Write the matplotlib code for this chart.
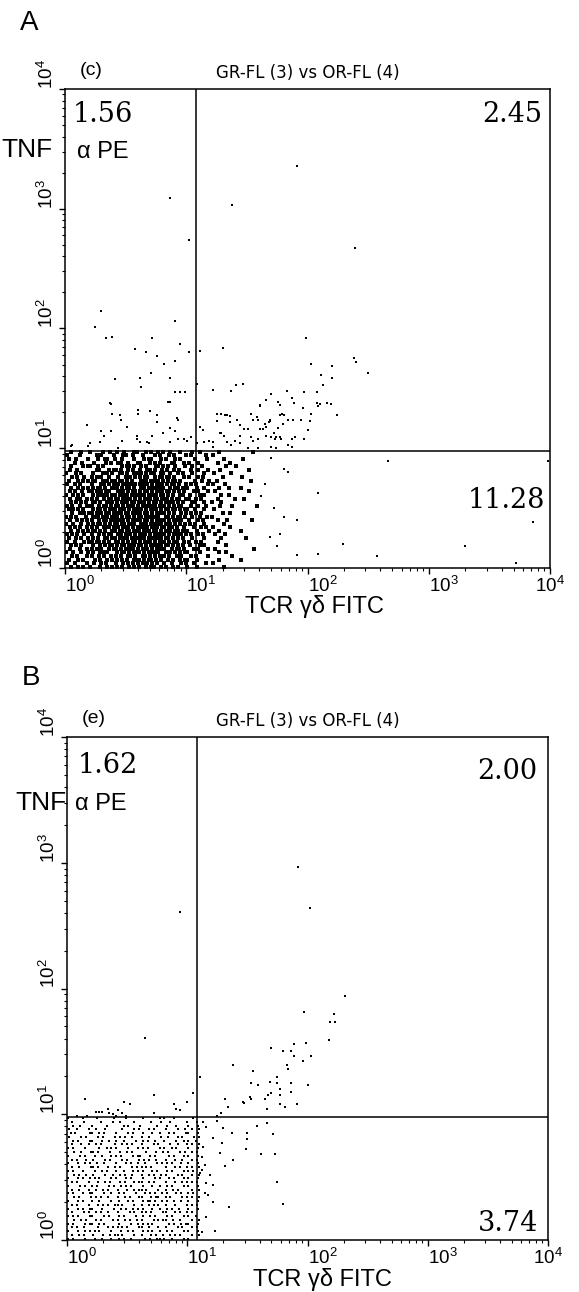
import numpy as np
import matplotlib.pyplot as plt

plt.rcParams['font.family'] = ['Liberation Sans', 'DejaVu Sans']
plt.rcParams['mathtext.fontset'] = 'custom'
plt.rcParams['mathtext.rm'] = 'Liberation Sans'

W, H = 579, 1292

# decade tick labels
tick_vals = [1, 10, 100, 1000, 10000]
tick_labels = [r'$\mathregular{10^{%d}}$' % i for i in range(5)]

# quadrant percentages (UL, UR, LR)
pct_a = ['1.56', '2.45', '11.28']
pct_b = ['1.62', '2.00', '3.74']

# quadrant gates, log10 units
gate_a = (1.08, 0.975)
gate_b = (1.08, 0.978)

# dense population, read as a coarse bitmap of the lower-left corner
# column c -> log10 x = 0.01 + 0.02*c ; row r -> log10 y = 0.97 - 0.03*r
cloud_a = [
    "..#...#..." "#....#..#." ".#..#...##" "...#.#..#." "#..#...#.." "..#..#...." "...#......" ".......#..",
    "#....#...." "..#.#....#" "...##..#.." ".#....#.#." "..#.#....#" ".#.....#.." "#........." "..........",
    ".#..#....#" "...#..##.." "#..#....#." "..#.##...#" ".#...#.#.." "...#....#." ".....#...." "...#......",
    "...#..#..." ".#....#.#." ".##..#...#" "#...#.#.#." "...##...#." "#...#....." "..#....#.." "..........",
    "..#....#.#" "#..#.#...." "...#.##.#." ".#.#...##." "#.#..#...#" "..#...#..." "......#..." "#.........",
    ".#..#....." "..##...#.#" "#.#..#.#.." "#..##.#..#" ".#..#.#..." ".#..#...#." "...#......" ".....#....",
    "#...#.#..." ".#...#.#.#" "..##.#..##" ".#.#.##..#" "#..#..#.#." "..#....#.." ".#......#." "..........",
    "..#.#..#.." "#.#.#..#.." ".#..###.#." "#.##..#.##" ".##.#...#." "#...#.#..." "....#....." "..#.......",
    ".#...#.#.#" ".##..#.#.#" "#.##.#.#.." ".###.##.#." "#.#.##.#.." "...#..#..#" "..#......." "......#...",
    "#..#.#...." "#...##.#.#" ".#.##.###." "##.#.#.###" ".#.##.#..#" ".#.#....#." "#....#...." "..........",
    "..#..#.#.#" ".#.##.#..#" "##.#.##.#." ".##.###.##" "#..#.##.#." "#...#..#.." "...#...#.." "..#.......",
    ".#.#..#..#" "#.#.#.##.." ".###.#.##." "#.##.#.###" ".##.#.#.#." "..#.#...#." ".#........" ".....#....",
    "#..#.#.#.." ".#.###.#.#" "#.#.##.###" ".##.####.#" "#.#.#..##." ".#...#.#.." "....#..#.." "..........",
    ".#..##..#." "#.#..#.##." "##.##.#.#." "#.###.##.#" "##.#.##..#" "#..#.#...." "..#......#" "...#......",
    "..#.#.#.#." ".##.#..###" ".#.###.##." "###.#.##.#" ".#.##.#.#." "..##...#.." "#...#....." "..........",
    "#.#..#..##" "#..#.##.#." "##.#.###.#" ".#.####.##" "#.#.#.##.." ".#..#..#.." "...#....#." "........#.",
    ".#.#.#.#.." ".#.##.#.##" "#.###.#.##" "##.#.###.#" ".##.##.#.#" "#..#...#.." ".#........" "..........",
    "..#..#.#.#" "#.#.#.##.#" ".##.##.###" "#.##.#.###" "#.#.#..#.#" ".#.#.#...." "....#..#.." "...#......",
    "#.#.#...#." ".###.#.#.#" "##.#.##.#." "##.####.#." ".##.#.##.#" "..#..#..#." "#........." "..........",
    ".#..#.#.#." "#..#.##.##" ".###.#.###" "#.##.#.###" "#.#.##.#.." "#...#.#..." "..#...#..." "......#...",
    "#..#..#..#" ".#.##.#.#." "##.##.###." ".###.##.##" ".#.#.#.#.#" ".#.#...#.." ".....#...." "..........",
    ".#.#.#..#." "#.#..###.#" ".#.###.#.#" "##.#.###.#" "#.##.#..#." "..#..#.#.." "#......#.." "..........",
    "..#..#.#.#" ".##.#.#..#" "#.##.##.##" "#.###.##.#" ".#.#.##.#." "#...#....#" "...#......" "..#.......",
    "#.#.#..#.." "#..#.#.##." ".##.###.#." "###.#.####" "#.#.##.#.#" ".#..#.#..." ".#...#...." "..........",
    ".#..#.#..#" ".#.#..##.#" "#.#.##.###" ".##.###.##" ".##.#.#.#." "..#....#.." "....#....." "....#.....",
    "#..#...#.#" "#.##.#.#.." "##.#.#.##." "#.###.#.##" "#.#.##..#." "#..#.#...." "..#......." "..........",
    "..#.#.#..." ".#..#.#.##" ".#.##.###." "##.#.##.##" ".##.#.#.#." ".#...#.#.." "......#..." "..........",
    ".#...#..#." "#.#.#..#.#" "#.#.#.##.#" ".###.#.###" "#..#.##.#." "..#.#...#." ".#........" ".......#..",
    "#..#..#..#" ".#..##.#.." ".#.##.#.##" "#.#.###.#." ".#.#.#.#.#" "#....#...." "...#..#..." "..........",
    "..#.#...#." "#..#.#..#." "#.#..##.#." ".##.#.#.##" "#.#..#.#.." ".#.#....#." "........#." "..........",
    ".#...#.#.." "..#.#..#.#" ".#.#.#..##" "#.#.##.#.#" "..#.#..#.#" "#...#....." "...#......" "..#.......",
    "#..#....#." ".#..#.#..." "#..#.#.#.#" ".#.#.#.#.." "#..#...#.#" "..#....#.." "#........." "..........",
    "..#..#.#.." "#...#..#.#" ".#.#..#.#." "#..#.##..#" ".#..#.#..." "#...#....." ".....#...." "..........",
]

cloud_b = [
    "#.....#..." "..#......#" "....#....." ".#......#." "#...#....." "..#..",
    ".#....#..." "...#....#." ".#.....#.." "....#...#." "..#......#" "...#.",
    "..#..#...." "#.....#..." "...#.#...." "#......#.." ".#...#...." "#...#",
    "#..#....#." ".#...#...." "..#....#.#" "...#.#...." "#....#..#." ".#..#",
    ".#.#.....#" "#..#.#...." "#....#.#.." ".#...#..#." "..#.#....#" "#...#",
    "#....#.#.." "..#.#....#" ".#.#..#..." "#..#....#." ".#...#.#.." "..#.#",
    "..#.#....#" "#...#..#.." "#..#....#." ".#.#..#..." "#....#..#." "#..#.",
    ".#...#..#." ".#.#.....#" "..#.#.#..." "#....#.#.." "..#..#...#" ".#..#",
    "#.#....#.." "...#..#.#." "#....#...#" ".#.#....#." "#..#.#...." "#...#",
    "..#..#...#" "#.#....#.." ".#..#.#..." "..#...#..#" ".#....#.#." ".#.#.",
    "#....#.#.." ".#..#...#." "#.#....#.#" "#...#.#..." "..#.#...#." "#...#",
    ".#.#...#.." "#....#.#.." "..#.#....#" ".#.#..#..." "#...#..#.." ".#.#.",
    "#...#..#.#" "..#..#...." "#...#.#..#" "..#....#.#" ".#.#...#.." "#...#",
    ".#..#....#" "#.#...#..#" ".#....#.#." "#.#.#....." "#...#.#..#" ".#..#",
    "#.#...#..." ".#..#.#..." "#..#...#.#" ".#...#.#.." ".#.#....#." "#.#..",
    "..#.#..#.." "#....#..#." ".#.#..#..." "#..#.#..#." "#....#.#.." ".#..#",
    "#...#.#..#" ".#.#....#." "#...#.#..." ".#....#.#." "..#.#...#." "#...#",
    ".#.#....#." "..#..#.#.." ".#.#...#.#" "#..#.#...." "#...#..#.#" ".#.#.",
    "#....#.#.." "#.#....#.#" "..#.#.#..." ".#...#..#." ".#.#....#." "#...#",
    ".#..#...#." ".#..#.#..." "#...#..#.#" "#.#....#.." "#..#.#...." ".#..#",
    "#.#...#..#" "#....#..#." ".#.#....#." "..#.#.#..#" ".#...#.#.." "#.#..",
    "..#.#....#" ".#.#..#..." "#..#.#...#" "#...#.##.." "#.#....#.#" ".#..#",
    "#...#.#..." "#..#....#." ".#...#.#.." ".#.##.#..#" ".#..#..#.." "#...#",
    ".#.#....#." "..#.#.#..#" "#.#....#.." "#..#.#.#.." "#...#....#" ".#.#.",
    "#...#.#..#" "#...#....#" "..#.#..#.#" ".#...#..#." ".#.#..#..." "#...#",
    ".#....#.#." ".#.#..#..." "#....#.#.." "#.#.#....#" "#...#.#..#" ".#...",
    "#.#.#....#" "#....#.#.." ".#.#....#." ".#..#.#..." ".#.#....#." "#..#.",
    "..#..#.#.." ".#.#....#." "#..#.#..#." "#....#.#.#" "#..#..#..." ".#..#",
    "#.#....#.#" "#..#.#...." ".#....#..#" ".#.#.#...." "..#.#..#.#" "#...#",
    ".#.#..#..." "..#...#.#." "#.#.#....#" "#..#...#.." "#....#.#.." ".#.#.",
    "#...#..#.#" ".#.#....#." "..#..#.#.." ".#.#.#..#." ".#.#....#." "#...#",
    ".#..#.#..." "#...#..#.#" "#.#....#.." "#...#.#..#" "..#.#.#..." ".#..#",
    "#.#....#.." ".#..#...#." ".#.#..#..." "..#.#..##." "#..#....#." "#....",
]
cloud_x0, cloud_dx = 0.01, 0.02
cloud_y0, cloud_dy = 0.97, 0.03

# scattered events outside the main population, (log10 x, log10 y)
sparse_a = [
    (1.91, 3.36), (0.87, 3.09), (1.38, 3.03), (1.02, 2.74), (2.39, 2.67),
    (0.30, 2.15), (0.25, 2.01), (0.34, 1.92), (0.39, 1.93), (0.72, 1.92),
    (0.91, 2.06), (1.99, 1.92), (0.58, 1.83), (0.67, 1.80), (0.95, 1.87),
    (1.02, 1.80), (1.11, 1.81), (1.30, 1.84), (0.76, 1.77), (0.82, 1.70),
    (0.91, 1.73), (2.03, 1.70), (2.20, 1.69), (2.38, 1.75), (2.40, 1.72),
    (2.50, 1.63), (0.71, 1.63), (0.41, 1.58), (0.62, 1.59), (0.87, 1.59),
    (0.63, 1.51), (2.11, 1.61), (2.20, 1.59), (2.13, 1.53), (1.09, 1.54),
    (1.22, 1.49), (1.37, 1.48), (1.41, 1.53), (1.47, 1.54), (0.91, 1.47),
    (0.95, 1.47), (0.99, 1.47), (1.70, 1.45), (1.83, 1.48), (1.97, 1.47),
    (2.08, 1.47), (0.87, 1.39), (0.38, 1.37), (1.66, 1.40), (1.76, 1.39),
    (1.87, 1.42), (1.89, 1.38), (2.19, 1.37), (2.10, 1.37), (2.09, 1.35),
    (1.61, 1.35), (1.96, 1.34), (0.60, 1.32), (0.60, 1.29), (0.70, 1.31),
    (0.39, 1.29), (0.76, 1.28), (1.29, 1.29), (1.32, 1.28), (1.36, 1.27),
    (1.53, 1.29), (1.79, 1.29), (1.81, 1.28), (2.03, 1.29), (2.24, 1.28),
    (0.46, 1.24), (0.93, 1.24), (0.76, 1.22), (1.25, 1.23), (1.42, 1.24),
    (1.55, 1.24), (1.59, 1.24), (1.69, 1.23), (1.84, 1.24), (1.95, 1.24),
    (2.02, 1.23), (0.87, 1.17), (1.11, 1.18), (1.36, 1.22), (1.48, 1.16),
    (1.51, 1.16), (1.65, 1.20), (1.68, 1.22), (1.61, 1.16), (1.63, 1.16),
    (1.76, 1.17), (1.80, 1.20), (2.00, 1.15), (0.38, 1.14), (0.91, 1.14),
    (1.29, 1.13), (1.31, 1.10), (1.44, 1.10), (1.66, 1.10), (1.70, 1.09),
    (1.74, 1.09), (1.90, 1.09), (1.97, 1.08), (0.32, 1.10), (0.29, 1.05),
    (0.59, 1.10), (0.59, 1.08), (0.72, 1.10), (0.47, 1.06), (0.62, 1.05),
    (0.69, 1.04), (0.21, 1.04), (0.19, 1.02), (0.05, 1.02), (0.44, 1.00),
    (0.87, 1.05), (0.93, 1.08), (0.98, 1.08), (1.01, 1.06), (1.04, 1.09),
    (1.15, 1.05), (1.19, 1.06), (1.22, 1.05), (1.40, 1.06), (1.37, 1.03),
    (1.55, 1.06), (1.59, 1.08), (1.73, 1.08), (1.78, 1.08), (1.87, 1.08),
    (1.70, 1.01), (1.74, 1.00), (1.87, 1.01), (1.51, 1.00), (1.59, 1.00),
    (0.37, 1.38), (0.85, 1.39), (0.45, 1.28), (0.92, 1.25), (0.18, 1.19),
    (0.30, 1.14), (0.51, 1.18), (0.68, 1.05), (0.81, 1.13), (0.06, 1.03),
    (1.25, 1.29), (1.34, 1.28), (1.14, 1.15), (1.28, 1.13), (1.44, 1.19),
    (1.58, 1.26), (1.69, 1.24), (1.77, 1.28), (1.66, 1.18), (1.72, 1.13),
    (1.88, 1.24), (2.08, 1.38), (2.16, 1.38), (1.77, 1.36), (1.61, 1.36),
    (1.44, 1.04), (1.53, 1.09), (1.09, 1.04), (1.22, 1.01), (1.34, 1.05),
    (1.77, 1.09), (1.84, 1.03),
    (2.09, 0.63), (2.66, 0.89), (2.29, 0.20), (2.09, 0.12), (2.57, 0.10),
    (3.30, 0.18), (3.86, 0.38), (3.72, 0.04), (3.98, 0.89), (1.81, 0.83),
    (1.84, 0.80), (1.72, 0.50), (1.81, 0.43), (1.91, 0.40), (1.69, 0.26),
    (1.77, 0.28), (1.75, 0.18), (1.91, 0.11), (1.65, 0.70), (1.62, 0.60),
    (1.70, 0.92),
]

sparse_b = [
    (1.92, 2.97), (2.02, 2.64), (0.94, 2.61), (0.65, 1.61), (2.31, 1.94),
    (1.97, 1.81), (2.22, 1.80), (2.19, 1.73), (2.23, 1.73), (2.18, 1.59),
    (1.99, 1.57), (1.89, 1.56), (1.70, 1.53), (1.80, 1.50), (1.86, 1.50),
    (1.89, 1.46), (2.03, 1.46), (1.96, 1.42), (1.38, 1.39), (1.83, 1.39),
    (1.84, 1.36), (1.55, 1.34), (1.11, 1.30), (1.75, 1.30), (1.69, 1.26),
    (1.53, 1.25), (1.59, 1.23), (1.75, 1.25), (1.86, 1.25), (2.00, 1.23),
    (1.77, 1.20), (1.70, 1.17), (1.67, 1.15), (1.77, 1.15), (1.86, 1.18),
    (1.52, 1.14), (1.53, 1.12), (1.46, 1.10), (1.47, 1.09), (1.65, 1.12),
    (1.31, 1.12), (1.34, 1.06), (1.66, 1.04), (1.77, 1.08), (1.81, 1.06),
    (1.91, 1.08), (1.28, 1.01), (1.25, 0.99), (1.05, 1.17), (1.00, 1.10),
    (0.89, 1.08), (0.91, 1.04), (0.94, 1.03), (0.72, 1.15), (0.72, 1.01),
    (0.47, 1.10), (0.52, 1.08), (0.15, 1.12), (0.24, 1.02), (0.27, 1.02),
    (0.29, 1.02), (0.34, 1.04), (0.35, 1.01), (0.41, 0.99), (0.49, 0.99),
    (0.08, 0.99), (0.17, 0.99), (0.38, 1.00), (0.42, 1.03), (0.46, 1.01),
    (1.13, 0.94), (1.16, 0.90), (1.25, 0.95), (1.30, 0.89), (1.37, 0.85),
    (1.50, 0.85), (1.58, 0.91), (1.66, 0.93), (1.71, 0.84), (1.21, 0.81),
    (1.13, 0.74), (1.29, 0.77), (1.50, 0.80), (1.49, 0.72), (1.27, 0.69),
    (1.38, 0.64), (1.31, 0.59), (1.12, 0.66), (1.15, 0.60), (1.12, 0.56),
    (1.11, 0.53), (1.19, 0.52), (1.61, 0.68), (1.73, 0.68), (1.16, 0.45),
    (1.21, 0.44), (1.15, 0.37), (1.17, 0.36), (1.21, 0.30), (1.75, 0.46),
    (1.80, 0.29), (1.35, 0.26), (1.16, 0.18), (1.23, 0.07), (1.12, 0.06),
]

fig = plt.figure(figsize=(W / 100, H / 100), dpi=100)


def ftext(x, y, s, **kw):
    # place text at figure pixel position (x from left, y from top)
    fig.text(x / W, 1 - y / H, s, **kw)


def draw_panel(ax, cloud, sparse, gate, tag, dot):
    cx, cy = [], []
    for r, row in enumerate(cloud):
        shift = cloud_dx / 2 if r % 2 else 0.0  # stagger rows
        for c, ch in enumerate(row):
            if ch == '#':
                cx.append(10 ** (cloud_x0 + shift + cloud_dx * c))
                cy.append(10 ** (cloud_y0 - cloud_dy * r))
    ax.plot(cx, cy, 's', ms=dot, mew=0, color='black')
    sx = [10 ** p[0] for p in sparse]
    sy = [10 ** p[1] for p in sparse]
    ax.plot(sx, sy, 's', ms=1.6, mew=0, color='black')

    ax.set_xscale('log')
    ax.set_yscale('log')
    ax.set_xlim(1, 1e4)
    ax.set_ylim(1, 1e4)
    ax.axvline(10 ** gate[0], color='black', lw=1.1)
    ax.axhline(10 ** gate[1], color='black', lw=1.1)

    ax.set_xticks(tick_vals, tick_labels)
    ax.set_yticks(tick_vals, tick_labels)
    ax.tick_params(which='major', direction='out', length=4, width=1.0,
                   labelsize=13.5, pad=1.5)
    ax.tick_params(which='minor', direction='out', length=2.5, width=0.8)
    xl = ax.get_xticklabels()
    for lab in xl:
        lab.set_ha('left')
    xl[-1].set_ha('center')
    xl[-1].set_x(10 ** 4.08)
    for lab in ax.get_yticklabels():
        lab.set_rotation(90)
        lab.set_va('bottom')
        lab.set_ha('right')
    for sp in ax.spines.values():
        sp.set_linewidth(1.1)

    ax.set_title('GR-FL (3) vs OR-FL (4)', fontsize=12,
                 family='DejaVu Sans', pad=8)
    ax.text(0.03, 1.02, tag, transform=ax.transAxes, fontsize=14,
            va='bottom', ha='left')


ax_a = fig.add_axes([65 / W, 1 - 568 / H, 485 / W, 479 / H])
draw_panel(ax_a, cloud_a, sparse_a, gate_a, '(c)', 2.2)
ax_b = fig.add_axes([67 / W, 1 - 1240 / H, 481 / W, 503 / H])
draw_panel(ax_b, cloud_b, sparse_b, gate_b, '(e)', 1.9)

serif = dict(family='DejaVu Serif', fontsize=19.5, va='baseline')

# panel A annotations
ftext(20, 30, 'A', fontsize=20, va='baseline')
ftext(73, 122, pct_a[0], ha='left', **serif)
ftext(542, 122, pct_a[1], ha='right', **serif)
ftext(545, 508, pct_a[2], ha='right', **serif)
ftext(1, 157, 'TNF', fontsize=19, va='baseline')
ftext(77, 158, 'α PE', fontsize=17, va='baseline')
ftext(245, 613, 'TCR γδ FITC', fontsize=17, va='baseline')

# panel B annotations
ftext(22, 685, 'B', fontsize=20, va='baseline')
ftext(78, 773, pct_b[0], ha='left', **serif)
ftext(537, 779, pct_b[1], ha='right', **serif)
ftext(538, 1231, pct_b[2], ha='right', **serif)
ftext(15, 810, 'TNF', fontsize=19, va='baseline')
ftext(75, 810, 'α PE', fontsize=17, va='baseline')
ftext(253, 1286, 'TCR γδ FITC', fontsize=17, va='baseline')

fig.savefig('out.png', dpi=100)
